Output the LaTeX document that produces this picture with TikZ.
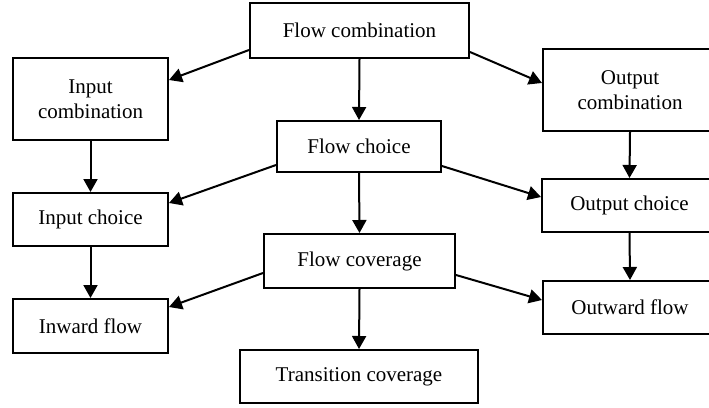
\documentclass[tikz,border=0pt]{standalone}
\usepackage{fontspec}
\setmainfont{Liberation Serif}
\usetikzlibrary{arrows.meta}
\begin{document}
\begin{tikzpicture}[x=1pt,y=-1pt,
  box/.style={draw,line width=2pt,inner sep=0pt,align=center,
    font=\fontsize{21pt}{24.5pt}\selectfont},
  arr/.style={line width=2pt,-{Triangle[length=13pt,width=14pt]}}]
\useasboundingbox (0,0) rectangle (709,407);
\begin{scope}
\clip (0,0) rectangle (709,407);
% boxes
\node[box,minimum width=219pt,minimum height=55pt] (fcomb)   at (359.5,30.5) {Flow combination};
\node[box,minimum width=155pt,minimum height=82pt] (icomb)   at (90.5,99)    {Input\\combination};
\node[box,minimum width=174pt,minimum height=82pt] (ocomb)   at (630,90)     {Output\\combination};
\node[box,minimum width=164pt,minimum height=51pt] (fchoice) at (359,146.5)  {Flow choice};
\node[box,minimum width=155pt,minimum height=53pt] (ichoice) at (90.5,219.5) {Input choice};
\node[box,minimum width=175pt,minimum height=53pt] (ochoice) at (629.5,205.5){Output choice};
\node[box,minimum width=191pt,minimum height=54pt] (fcov)    at (359.5,261)  {Flow coverage};
\node[box,minimum width=155pt,minimum height=54pt] (inward)  at (90.5,326)   {Inward flow};
\node[box,minimum width=174pt,minimum height=53pt] (outward) at (630,307.5)  {Outward flow};
\node[box,minimum width=238pt,minimum height=53pt] (trans)   at (359,376.5)  {Transition coverage};
\end{scope}
% vertical connectors
\draw[arr] (fcomb.south)   -- (fchoice.north);
\draw[arr] (fchoice.south) -- (fcov.north);
\draw[arr] (fcov.south)    -- (trans.north);
\draw[arr] (icomb.south)   -- (ichoice.north);
\draw[arr] (ichoice.south) -- (inward.north);
\draw[arr] (ocomb.south)   -- (ochoice.north);
\draw[arr] (ochoice.south) -- (outward.north);
% slanted connectors
\draw[arr] ([yshift=-19.5pt]fcomb.west)   -- ([yshift=19pt]icomb.east);
\draw[arr] ([yshift=-21.5pt]fcomb.east)   -- ([yshift=7pt]ocomb.west);
\draw[arr] ([yshift=-18.5pt]fchoice.west) -- ([yshift=16.5pt]ichoice.east);
\draw[arr] ([yshift=-19.5pt]fchoice.east) -- ([yshift=8.5pt]ochoice.west);
\draw[arr] ([yshift=-12pt]fcov.west)      -- ([yshift=19pt]inward.east);
\draw[arr] ([yshift=-14pt]fcov.east)      -- ([yshift=7.5pt]outward.west);
\end{tikzpicture}
\end{document}
